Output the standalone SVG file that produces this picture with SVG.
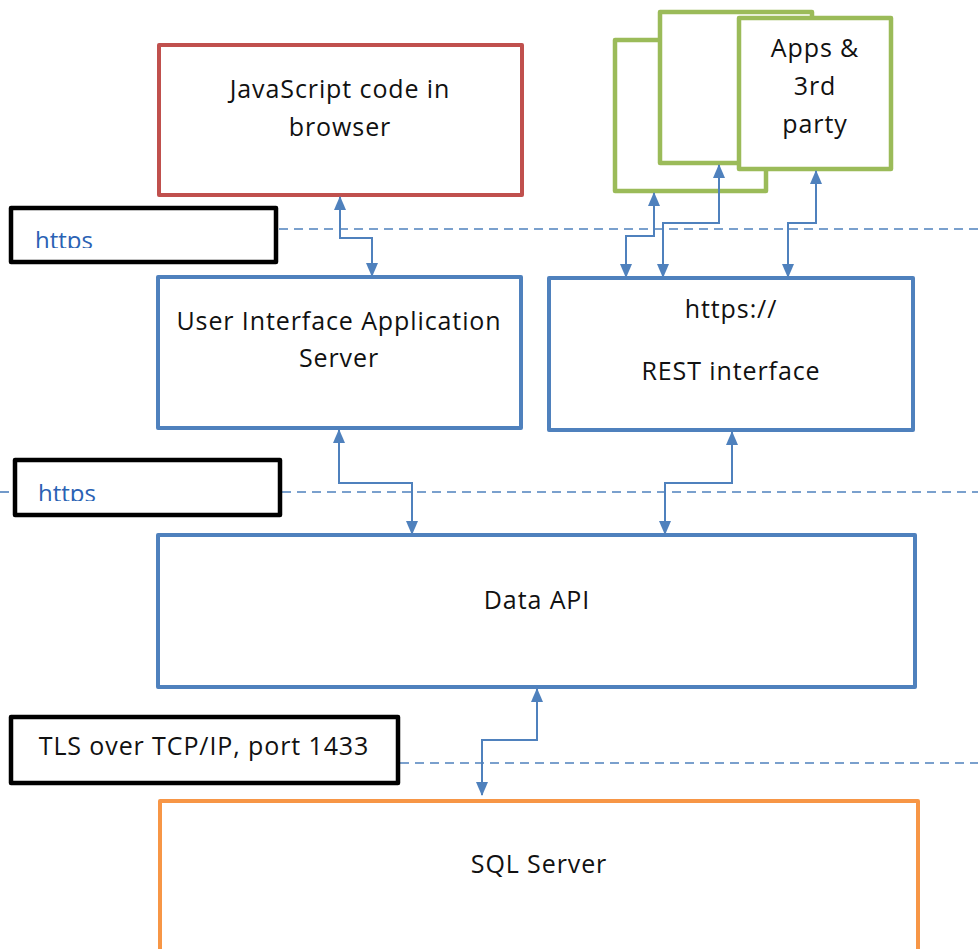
<svg xmlns="http://www.w3.org/2000/svg" width="978" height="949" viewBox="0 0 978 949">
<style>
.box{fill:#fff;stroke-width:4;stroke-linejoin:round}
.blue{stroke:#4F81BD}
.red{stroke:#C0504D}
.green{stroke:#9BBB59;stroke-width:4.5}
.orange{stroke:#F79646}
.lbl{fill:#fff;stroke:#000;stroke-width:4.5;stroke-linejoin:round}
.t{font-family:"Open Sans","Liberation Sans",sans-serif;font-size:25px;letter-spacing:0.9px;fill:#111;text-anchor:middle}
.tb{font-family:"Open Sans","Liberation Sans",sans-serif;font-size:24px;fill:#2A62B4}
.dash{stroke:#4F81BD;stroke-width:1.6;stroke-dasharray:9,6;fill:none}
.conn{stroke:#4F81BD;stroke-width:2;fill:none;marker-start:url(#ah);marker-end:url(#ah)}
</style>
<defs>
<marker id="ah" markerUnits="userSpaceOnUse" markerWidth="14" markerHeight="12" refX="13" refY="6" orient="auto-start-reverse" viewBox="0 0 14 12">
<path d="M0,0 L14,6 L0,12 z" fill="#4F81BD"/>
</marker>
<clipPath id="c1"><rect x="12" y="209" width="263" height="39"/></clipPath>
<clipPath id="c2"><rect x="17" y="462" width="261" height="39"/></clipPath>
</defs>

<g id="dashes">
<line class="dash" x1="279" y1="229" x2="978" y2="229"/>
<line class="dash" x1="282" y1="492" x2="978" y2="492"/>
<line class="dash" x1="0" y1="492" x2="14" y2="492"/>
<line class="dash" x1="400" y1="763" x2="978" y2="763"/>
</g>

<g id="js-browser">
<rect class="box red" x="159" y="45" width="363" height="150"/>
<text class="t" x="340" y="98">JavaScript code in</text>
<text class="t" x="340" y="136">browser</text>
</g>

<g id="apps-back"><rect class="box green" x="615" y="40" width="151" height="151"/></g>
<g id="apps-mid"><rect class="box green" x="660" y="12" width="152" height="151"/></g>
<g id="apps-front">
<rect class="box green" x="739" y="18" width="152" height="151"/>
<text class="t" x="815" y="57">Apps &amp;</text>
<text class="t" x="815" y="95">3rd</text>
<text class="t" x="815" y="133">party</text>
</g>

<g id="https-label-1">
<rect class="lbl" x="11" y="208" width="265" height="54"/>
<text class="tb" x="35" y="249" clip-path="url(#c1)">https</text>
</g>

<g id="ui-server">
<rect class="box blue" x="158" y="277" width="363" height="151"/>
<text class="t" x="339" y="330">User Interface Application</text>
<text class="t" x="339" y="367">Server</text>
</g>

<g id="rest">
<rect class="box blue" x="549" y="278" width="364" height="152"/>
<text class="t" x="731" y="318">https://</text>
<text class="t" x="731" y="380">REST interface</text>
</g>

<g id="https-label-2">
<rect class="lbl" x="15" y="460" width="265" height="55"/>
<text class="tb" x="38" y="502" clip-path="url(#c2)">https</text>
</g>

<g id="data-api">
<rect class="box blue" x="158" y="535" width="757" height="152"/>
<text class="t" x="537" y="609">Data API</text>
</g>

<g id="tls-label">
<rect class="lbl" x="11" y="717" width="387" height="66"/>
<text class="t" x="204" y="755">TLS over TCP/IP, port 1433</text>
</g>

<g id="sql-server">
<rect class="box orange" x="160" y="801" width="758" height="160"/>
<text class="t" x="539" y="873">SQL Server</text>
</g>

<g id="connectors">
<path class="conn" d="M340,197 L340,238 L372,238 L372,276"/>
<path class="conn" d="M654,193 L654,236 L626,236 L626,277"/>
<path class="conn" d="M719,165 L719,223 L663,223 L663,277"/>
<path class="conn" d="M816,171 L816,223 L788,223 L788,277"/>
<path class="conn" d="M339,430 L339,483 L412,483 L412,534"/>
<path class="conn" d="M732,432 L732,483 L665,483 L665,534"/>
<path class="conn" d="M537,689 L537,740 L482,740 L482,795"/>
</g>
</svg>
